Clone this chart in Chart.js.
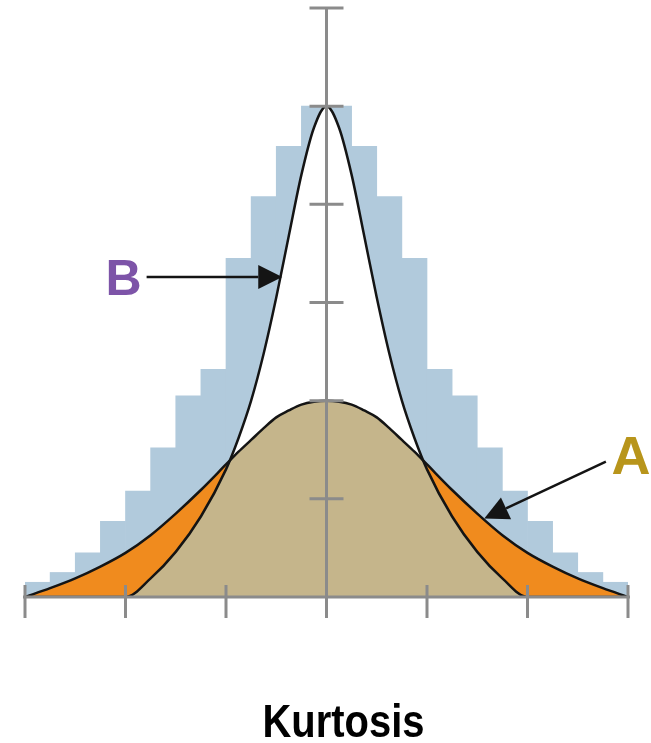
<!DOCTYPE html>
<html>
<head>
<meta charset="utf-8">
<title>Kurtosis</title>
<script src="https://cdn.jsdelivr.net/npm/chart.js@4.4.0/dist/chart.umd.min.js"></script>
<style>
    html, body { margin: 0; padding: 0; background: #ffffff; }
    #wrap { width: 651px; height: 743px; }
</style>
</head>
<body>
<div id="wrap"><canvas id="kurtosisChart" width="651" height="743"></canvas></div>
<script>
// sample points shared by both curves
const xValues = [-3, -2.75, -2.5, -2.25, -2, -1.75, -1.5, -1.25, -1, -0.875, -0.75, -0.625, -0.5, -0.375, -0.25, -0.125,
    0, 0.125, 0.25, 0.375, 0.5, 0.625, 0.75, 0.875, 1, 1.25, 1.5, 1.75, 2, 2.25, 2.5, 2.75, 3];

// A: wide curve
const curveA = [0, 0.09, 0.19, 0.31, 0.45, 0.63, 0.85, 1.09, 1.35, 1.48, 1.6, 1.72, 1.83, 1.9, 1.96, 1.99,
    2.0, 1.99, 1.96, 1.9, 1.83, 1.72, 1.6, 1.48, 1.35, 1.09, 0.85, 0.63, 0.45, 0.31, 0.19, 0.09, 0];

// B: tall narrow curve
const curveB = [0, 0, 0, 0, 0, 0.19, 0.46, 0.82, 1.3, 1.62, 2.0, 2.48, 3.05, 3.68, 4.3, 4.78,
    5.0, 4.78, 4.3, 3.68, 3.05, 2.48, 2.0, 1.62, 1.3, 0.82, 0.46, 0.19, 0, 0, 0, 0, 0];

// histogram behind the curves
const binCenters = [-2.875, -2.625, -2.375, -2.125, -1.875, -1.625, -1.375, -1.125, -0.875, -0.625, -0.375, -0.125,
    0.125, 0.375, 0.625, 0.875, 1.125, 1.375, 1.625, 1.875, 2.125, 2.375, 2.625, 2.875];
const binHeights = [0.15, 0.25, 0.45, 0.77, 1.08, 1.52, 2.05, 2.32, 3.45, 4.08, 4.59, 5.0,
    5.0, 4.59, 4.08, 3.45, 2.32, 2.05, 1.52, 1.08, 0.77, 0.45, 0.25, 0.15];

const xTicks = [-3, -2, -1, 0, 1, 2, 3];
const yTicks = [0, 1, 2, 3, 4, 5, 6];

const chartTitle = "Kurtosis";

const toPoints = (xs, ys) => xs.map((x, i) => ({ x: x, y: ys[i] }));

const axisGrey = "#8b8b8b";
const lineBlack = "#141414";

// axis lines with ticks crossing them
const crossAxes = {
    id: "crossAxes",
    afterDatasetsDraw(chart) {
        const { ctx } = chart;
        const xs = chart.scales.x;
        const ys = chart.scales.y;
        const x0 = xs.getPixelForValue(0);
        const y0 = ys.getPixelForValue(0);

        ctx.save();
        ctx.strokeStyle = axisGrey;
        ctx.lineWidth = 3;
        ctx.beginPath();
        ctx.moveTo(xs.getPixelForValue(xTicks[0]) - 2, y0);
        ctx.lineTo(xs.getPixelForValue(xTicks[xTicks.length - 1]) + 2, y0);
        ctx.moveTo(x0, ys.getPixelForValue(yTicks[yTicks.length - 1]));
        ctx.lineTo(x0, y0);
        for (let i = 0; i < xTicks.length; i++) {
            const px = xs.getPixelForValue(xTicks[i]);
            ctx.moveTo(px, y0 - 12);
            ctx.lineTo(px, y0 + 21);
        }
        for (let i = 1; i < yTicks.length; i++) {
            const py = ys.getPixelForValue(yTicks[i]);
            ctx.moveTo(x0 - 17, py);
            ctx.lineTo(x0 + 17, py);
        }
        ctx.stroke();
        ctx.restore();
    },
};

// labels A / B with arrows, plus the caption
const labels = [
    { text: "B", color: "#7d54a8", size: 50, x: -2.02, y: 3.08, from: [-1.79, 3.26], to: [-0.44, 3.26] },
    { text: "A", color: "#b8951b", size: 54, x: 3.03, y: 1.25, from: [2.78, 1.38], to: [1.57, 0.8] },
];

function drawArrow(ctx, x1, y1, x2, y2) {
    const ang = Math.atan2(y2 - y1, x2 - x1);
    const headLen = 24;
    const headHalf = 12;
    const bx = x2 - headLen * Math.cos(ang);
    const by = y2 - headLen * Math.sin(ang);
    ctx.beginPath();
    ctx.moveTo(x1, y1);
    ctx.lineTo(bx, by);
    ctx.stroke();
    ctx.beginPath();
    ctx.moveTo(x2, y2);
    ctx.lineTo(bx + headHalf * Math.sin(ang), by - headHalf * Math.cos(ang));
    ctx.lineTo(bx - headHalf * Math.sin(ang), by + headHalf * Math.cos(ang));
    ctx.closePath();
    ctx.fill();
}

const annotations = {
    id: "annotations",
    afterDraw(chart) {
        const { ctx } = chart;
        const xs = chart.scales.x;
        const ys = chart.scales.y;

        ctx.save();
        ctx.strokeStyle = lineBlack;
        ctx.fillStyle = lineBlack;
        ctx.lineWidth = 2.5;
        labels.forEach((item) => {
            drawArrow(ctx,
                xs.getPixelForValue(item.from[0]), ys.getPixelForValue(item.from[1]),
                xs.getPixelForValue(item.to[0]), ys.getPixelForValue(item.to[1]));
        });

        ctx.textAlign = "center";
        ctx.textBaseline = "alphabetic";
        labels.forEach((item) => {
            ctx.fillStyle = item.color;
            ctx.font = "bold " + item.size + "px 'Liberation Sans', Arial, sans-serif";
            ctx.fillText(item.text, xs.getPixelForValue(item.x), ys.getPixelForValue(item.y));
        });

        ctx.fillStyle = "#000000";
        ctx.font = "bold 47px 'Liberation Sans Narrow', 'Arial Narrow', 'Liberation Sans', sans-serif";
        ctx.fillText(chartTitle, 343.5, 737, 162);
        ctx.restore();
    },
};

const ctx = document.getElementById("kurtosisChart");

new Chart(ctx, {
    type: "bar",
    data: {
        datasets: [
            {
                type: "bar",
                data: toPoints(binCenters, binHeights),
                backgroundColor: "#b1cadc",
                borderWidth: 0,
                barPercentage: 1,
                categoryPercentage: 1,
                order: 5,
            },
            {
                // white inside curve B hides the bars
                type: "line",
                data: toPoints(xValues, curveB),
                borderWidth: 0,
                backgroundColor: "#ffffff",
                fill: "origin",
                pointRadius: 0,
                cubicInterpolationMode: "monotone",
                order: 4,
            },
            {
                type: "line",
                data: toPoints(xValues, curveA),
                borderWidth: 0,
                backgroundColor: "#c5b58b",
                fill: "origin",
                pointRadius: 0,
                cubicInterpolationMode: "monotone",
                order: 3,
            },
            {
                // orange where A lies above B (the tails)
                type: "line",
                data: toPoints(xValues, curveA),
                borderColor: lineBlack,
                borderWidth: 2.5,
                fill: { target: 1, above: "#f08b1e", below: "rgba(0,0,0,0)" },
                pointRadius: 0,
                cubicInterpolationMode: "monotone",
                order: 2,
            },
            {
                type: "line",
                data: toPoints(xValues, curveB),
                borderColor: lineBlack,
                borderWidth: 2.5,
                fill: false,
                pointRadius: 0,
                cubicInterpolationMode: "monotone",
                order: 1,
            },
        ],
    },
    options: {
        responsive: false,
        animation: false,
        layout: {
            padding: { left: 25, right: 23, top: 8, bottom: 146 },
        },
        scales: {
            x: {
                type: "linear",
                min: -3,
                max: 3,
                offset: false,
                display: false,
            },
            y: {
                type: "linear",
                min: 0,
                max: 6,
                display: false,
            },
        },
        plugins: {
            legend: { display: false },
            tooltip: { enabled: false },
            title: { display: false },
        },
    },
    plugins: [crossAxes, annotations],
});
</script>
</body>
</html>
